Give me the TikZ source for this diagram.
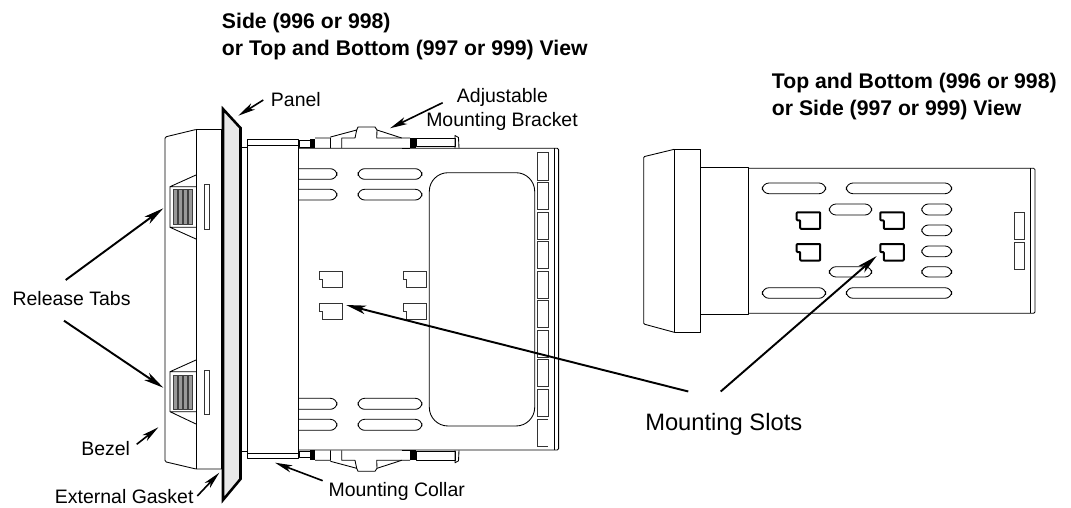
\documentclass[tikz,border=0pt]{standalone}
\usepackage{fontspec}
\setmainfont{Liberation Sans}
\usetikzlibrary{arrows.meta}
\tikzset{
  ln/.style={draw=black,line width=0.65pt,line join=round},
  thin ln/.style={draw=black!80,line width=0.55pt},
  heavy/.style={draw=black,line width=1.9pt},
  boldslot/.style={draw=black,line width=1.5pt,line join=round,rounded corners=0.6},
  pointer/.style={draw=black,line width=1.45pt,-{Stealth[length=15,width=6.5,inset=4]}},
  shortptr/.style={draw=black,line width=1.2pt,-{Stealth[length=13,width=5.5,inset=3.5]}},
  lab/.style={anchor=base west,inner sep=0pt,font=\fontsize{14.6}{14.6}\selectfont},
  biglab/.style={anchor=base west,inner sep=0pt,font=\fontsize{17.8}{17.8}\selectfont},
  head/.style={anchor=base west,inner sep=0pt,font=\fontsize{15.9}{15.9}\selectfont\bfseries},
}
\newcommand{\rrect}[4]{\draw[ln,rounded corners=5] (#1,#2) rectangle (#3,#4);}
\newcommand{\openslot}[3]{\draw[ln,rounded corners=5] (298.7,#1) -- (#3,#1) -- (#3,#2) -- (298.7,#2);}
\newcommand{\notchslot}[3]{\draw[#3] (#1,#2) -- (#1+23.5,#2) -- (#1+23.5,#2+16.5) -- (#1+3.5,#2+16.5) -- (#1+3.5,#2+8) -- (#1,#2+8) -- cycle;}
\newcommand{\tabrect}[2]{\draw[thin ln] (537.3,#1) rectangle (548,#2);}
\newcommand{\gripbars}[2]{%
  \foreach \xx in {173.3,178.2,183.1,188.0}{\draw[draw=black!75,line width=0.4pt,fill=black!40] (\xx+0.4,#1) rectangle (\xx+4.3,#2);}}
\begin{document}
\begin{tikzpicture}[x=0.75pt,y=-0.75pt]
\useasboundingbox (0,0) rectangle (1071,507);
% --- left view ---
\draw[ln,fill=white,rounded corners=1] (222,129.5) -- (196,129.5) -- (165,137) -- (165,461.7) -- (196,469) -- (222,469);
\draw[ln] (196,129.5) -- (196,469);
\draw[heavy] (222,129.5) -- (222,469);
\draw[heavy,fill=black!9,line join=miter] (223,109) -- (240.5,128) -- (240.5,479) -- (223,500) -- cycle;
\draw[ln] (240.5,147.5) -- (247.3,147.5) (240.5,451) -- (247.3,451);
\draw[ln] (247.3,145) rectangle (298.7,453.3);
\draw[ln] (247.3,139.3) rectangle (298.7,145);
\draw[ln] (247.3,453.3) rectangle (298.7,458.7);
% tabs on bezel
\draw[ln] (196,175) -- (170,186.7) -- (170,227.3) -- (196,239) (170,186.7) -- (196,186.7) (170,227.3) -- (196,227.3);
\gripbars{189.3}{224}
\draw[thin ln] (204.3,184.3) rectangle (209,229);
\draw[ln] (196,360) -- (170,371.7) -- (170,411.7) -- (196,424) (170,371.7) -- (196,371.7) (170,411.7) -- (196,411.7);
\gripbars{375}{409.3}
\draw[thin ln] (204.3,370) rectangle (209,414.3);
% body
\draw[ln,rounded corners=1] (298.7,148.3) -- (558.6,148.3) -- (558.6,450) -- (298.7,450);
\draw[ln] (554.3,148.3) -- (554.3,450);
\draw[ln] (298.7,148.3) -- (298.7,450);
\openslot{168.7}{179.3}{337}
\openslot{189.3}{200}{337}
\openslot{398.3}{409.3}{337}
\openslot{419.3}{430.3}{337}
\rrect{358}{168.7}{422}{179.3}
\rrect{358}{189.3}{422}{200}
\rrect{358}{398.3}{422}{409.3}
\rrect{358}{419.3}{422}{430.3}
\draw[ln,rounded corners=14] (429.3,172.7) rectangle (534.7,426);
\tabrect{152.3}{180}
\tabrect{182.5}{209.5}
\tabrect{212}{239}
\tabrect{241.5}{268.5}
\tabrect{271}{298}
\tabrect{300.7}{327.3}
\tabrect{330.3}{357}
\tabrect{359.7}{386.3}
\tabrect{389}{416.3}
\draw[thin ln] (548,419) -- (537.3,419) -- (537.3,446) -- (548,446);
\notchslot{319}{271}{thin ln}
\notchslot{319}{303}{thin ln}
\notchslot{403}{271}{thin ln}
\notchslot{403}{303}{thin ln}
% brackets, top and mirrored bottom
\foreach \flip in {1,-1}{
\begin{scope}[shift={(0,299.15)},yscale=\flip,shift={(0,-299.15)}]
  \draw[ln] (299,140.5) rectangle (310,147);
  \fill[black] (310,138.5) rectangle (315,148);
  \draw[ln] (315,138) -- (330.5,138) -- (330.5,148) (330.5,137) -- (356.7,130) -- (358,127) -- (375,127) -- (377,130) -- (401.7,138) -- (410,138);
  \draw[ln] (341.7,148) -- (341.7,138) -- (355,138) -- (356.7,130) (377,130) -- (376.7,138) -- (401.7,138);
  \draw[ln] (401.7,148) -- (410,148);
  \fill[black] (410,138) rectangle (416,148);
  \draw[ln] (416,138) rectangle (455,146.5);
  \draw[ln] (455,148) -- (455,135.5) -- (458.5,137.5) -- (459,148);
\end{scope}}
% --- right view ---
\draw[ln,rounded corners=0.7] (674.3,149.3) -- (643.7,156.7) -- (643.7,324) -- (674.3,332.3);
\draw[ln] (674.3,149.3) rectangle (700,332.3);
\draw[ln] (700,167.3) -- (748,167.3) -- (748,314) -- (700,314);
\draw[ln,rounded corners=1] (748,168.3) -- (1035,168.3) -- (1035,313.3) -- (748,313.3);
\draw[ln] (1030.7,168.3) -- (1030.7,313.3);
\rrect{762.3}{183}{825.7}{193.7}
\rrect{762.3}{287.7}{825.7}{298.3}
\rrect{846.3}{183}{951.7}{193.7}
\rrect{846.3}{287.7}{951.7}{298.3}
\rrect{829.3}{204}{871.7}{215}
\rrect{829.3}{266.7}{871.7}{277}
\rrect{921.7}{204}{951.7}{215}
\rrect{921.7}{225}{951.7}{235.7}
\rrect{921.7}{246}{951.7}{256.7}
\rrect{921.7}{266.7}{951.7}{277}
\draw[thin ln] (1014,212.3) rectangle (1024.7,239.3);
\draw[thin ln] (1014,242.3) rectangle (1024.7,269.3);
\notchslot{796.7}{212.3}{boldslot}
\notchslot{796.7}{244}{boldslot}
\notchslot{880.3}{212.3}{boldslot}
\notchslot{880.3}{244}{boldslot}
% --- labels ---
\node[head] (h1a) at (221.7,28.3) {Side (996 or 998)};
\node[head] (h1b) at (221.7,55) {or Top and Bottom (997 or 999) View};
\node[head] (h2a) at (771.7,88.3) {Top and Bottom (996 or 998)};
\node[head] (h2b) at (771.7,115) {or Side (997 or 999) View};
\node[lab] (panel) at (270.7,106.5) {Panel};
\node[lab] (adj) at (456.7,102.7) {Adjustable};
\node[lab] (bracket) at (426,126.7) {Mounting Bracket};
\node[lab] (release) at (12.3,305) {Release Tabs};
\node[lab] (bezel) at (81,455) {Bezel};
\node[lab] (gasket) at (54.7,503.5) {External Gasket};
\node[lab] (collar) at (328.3,496) {Mounting Collar};
\node[biglab] (slots) at (645,430) {Mounting Slots};
% --- connector ends ---
\coordinate (panelS) at (263.3,100);   \coordinate (panelT) at (238.3,115.7);
\coordinate (adjS) at (442.7,102.7);   \coordinate (adjT) at (390,128.3);
\coordinate (relS1) at (65.7,280);     \coordinate (relT1) at (163.3,208.3);
\coordinate (relS2) at (64,320.7);     \coordinate (relT2) at (163.3,387.7);
\coordinate (bezS) at (136.7,444.3);   \coordinate (bezT) at (158.3,427.3);
\coordinate (gasS) at (197.3,496);     \coordinate (gasT) at (219.3,472.7);
\coordinate (colS) at (322.7,480.7);   \coordinate (colT) at (275,462.7);
\coordinate (slotS1) at (688.3,391.5); \coordinate (slotT1) at (346,305);
\coordinate (slotS2) at (720.7,391.5); \coordinate (slotT2) at (876.7,256);
\draw[shortptr] (panelS) -- (panelT);
\draw[shortptr] (adjS) -- (adjT);
\draw[pointer] (relS1) -- (relT1);
\draw[pointer] (relS2) -- (relT2);
\draw[shortptr] (bezS) -- (bezT);
\draw[shortptr] (gasS) -- (gasT);
\draw[shortptr] (colS) -- (colT);
\draw[pointer] (slotS1) -- (slotT1);
\draw[pointer] (slotS2) -- (slotT2);
\end{tikzpicture}
\end{document}
